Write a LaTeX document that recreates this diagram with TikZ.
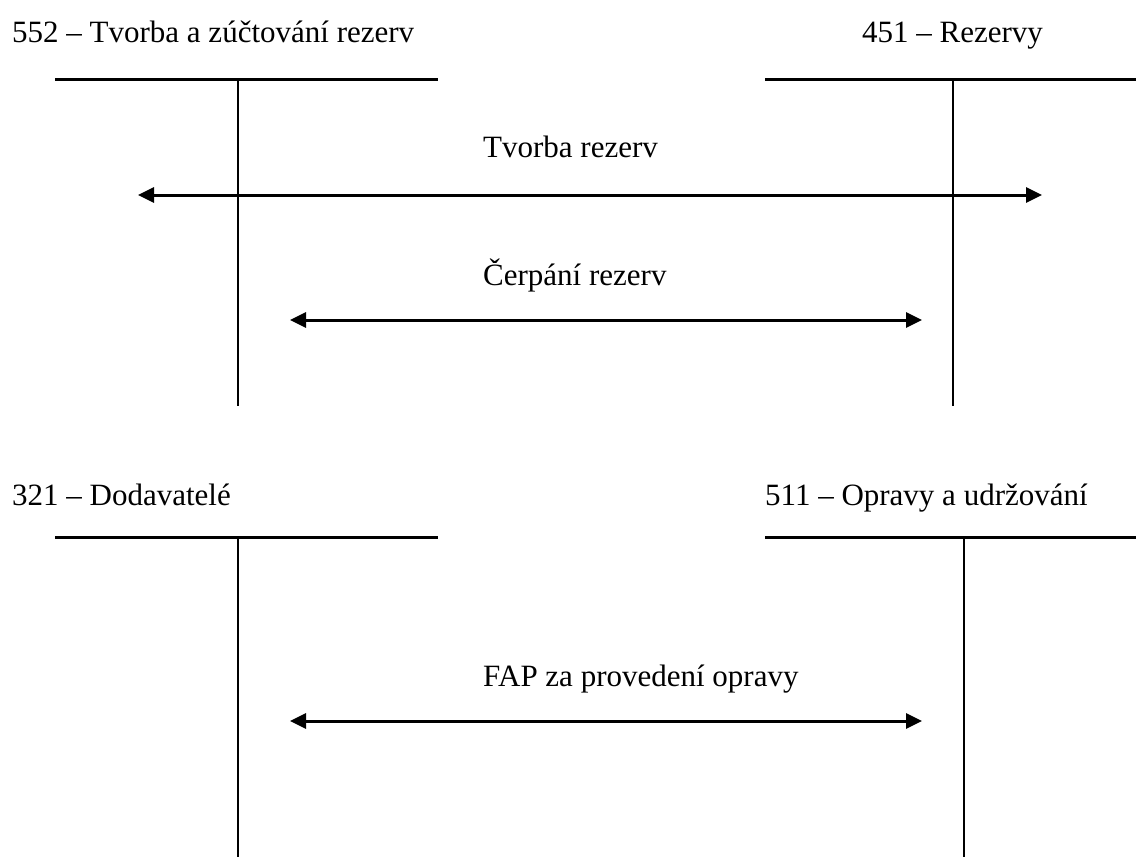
\documentclass[tikz,border=0pt]{standalone}
\usepackage{fontspec}
\setmainfont{Liberation Serif}
\usetikzlibrary{arrows.meta}
\begin{document}
\begin{tikzpicture}[x=1pt,y=-1pt,
  lbl/.style={anchor=base west,inner sep=0pt,font=\fontsize{31}{36}\selectfont},
  tline/.style={line width=3pt},
  vline/.style={line width=2.5pt},
  flow/.style={line width=3pt,{Triangle[length=16pt,width=15pt]}-{Triangle[length=16pt,width=15pt]}}]
\useasboundingbox (0,0) rectangle (1136,857);
% top-left account 552
\node[lbl] (t552) at (12,42) {552 – Tvorba a zúčtování rezerv};
\coordinate (a1l) at (55,79); \coordinate (a1r) at (438,79);
\coordinate (a1t) at (238,79); \coordinate (a1b) at (238,406);
\draw[tline] (a1l) -- (a1r);
\draw[vline] (a1t) -- (a1b);
% top-right account 451
\node[lbl] (t451) at (862,42) {451 – Rezervy};
\coordinate (a2l) at (765,79); \coordinate (a2r) at (1136,79);
\coordinate (a2t) at (953,79); \coordinate (a2b) at (953,406);
\draw[tline] (a2l) -- (a2r);
\draw[vline] (a2t) -- (a2b);
% bottom-left account 321
\node[lbl] (t321) at (12,505) {321 – Dodavatelé};
\coordinate (a3l) at (55,537); \coordinate (a3r) at (438,537);
\coordinate (a3t) at (238,537); \coordinate (a3b) at (238,857);
\draw[tline] (a3l) -- (a3r);
\draw[vline] (a3t) -- (a3b);
% bottom-right account 511
\node[lbl] (t511) at (765,505) {511 – Opravy a udržování};
\coordinate (a4l) at (765,537); \coordinate (a4r) at (1136,537);
\coordinate (a4t) at (964,537); \coordinate (a4b) at (964,857);
\draw[tline] (a4l) -- (a4r);
\draw[vline] (a4t) -- (a4b);
% flows
\node[lbl] (l1) at (483,157) {Tvorba rezerv};
\coordinate (f1a) at (138,195); \coordinate (f1b) at (1042,195);
\draw[flow] (f1a) -- (f1b);
\node[lbl] (l2) at (483,285) {Čerpání rezerv};
\coordinate (f2a) at (290,320); \coordinate (f2b) at (922,320);
\draw[flow] (f2a) -- (f2b);
\node[lbl] (l3) at (483,686) {FAP za provedení opravy};
\coordinate (f3a) at (290,721); \coordinate (f3b) at (922,721);
\draw[flow] (f3a) -- (f3b);
\end{tikzpicture}
\end{document}
